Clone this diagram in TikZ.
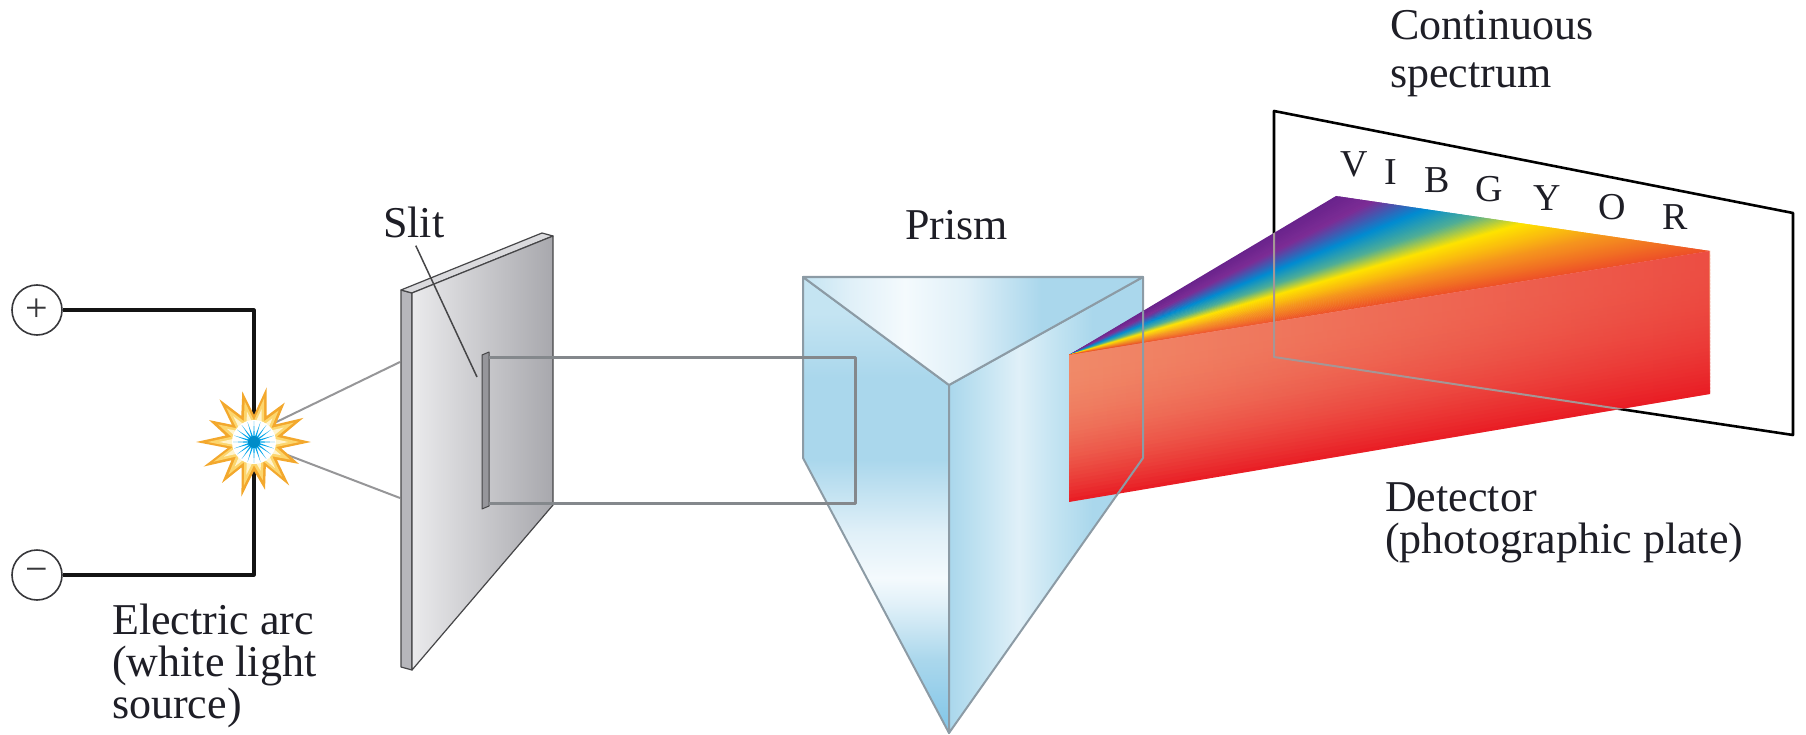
\documentclass[tikz,border=0pt]{standalone}
\usepackage{fontspec}
\setmainfont{Liberation Serif}
\usetikzlibrary{calc,fadings}

% palette
\definecolor{wire}{RGB}{20,20,20}
\definecolor{ringgray}{RGB}{55,55,58}
\definecolor{raygray}{RGB}{150,150,152}
\definecolor{beamgray}{RGB}{132,136,140}
\definecolor{platefrontA}{RGB}{234,234,236}
\definecolor{platefrontB}{RGB}{168,168,173}
\definecolor{plateedge}{RGB}{182,182,187}
\definecolor{platetop}{RGB}{218,218,221}
\definecolor{plateline}{RGB}{70,70,72}
\definecolor{groove}{RGB}{150,150,155}
\definecolor{pb}{RGB}{170,215,236}
\definecolor{pbdeep}{RGB}{128,197,232}
\definecolor{pbmid}{RGB}{196,228,242}
\definecolor{pbpale}{RGB}{224,240,248}
\definecolor{pbwhite}{RGB}{244,250,253}
\definecolor{prismline}{RGB}{140,155,165}
\definecolor{arcorange}{RGB}{243,168,45}
\definecolor{arcyellow}{RGB}{252,214,110}
\definecolor{arccream}{RGB}{255,244,205}
\definecolor{arcblue}{RGB}{0,165,235}
\definecolor{salmonc}{RGB}{241,138,105}
\definecolor{redc}{RGB}{233,28,36}
\definecolor{ghostline}{RGB}{165,150,150}
\definecolor{labeltext}{RGB}{30,30,38}

% shadings of the glass; the path box covers the stops 25bp..75bp
\pgfdeclarehorizontalshading{prismtop}{100bp}{color(0bp)=(pbmid); color(25bp)=(pbmid); color(32bp)=(pbpale); color(40bp)=(pbwhite); color(49bp)=(pbpale); color(60bp)=(pb); color(75bp)=(pb); color(100bp)=(pb)}
\pgfdeclareverticalshading{prismleft}{100bp}{color(0bp)=(pbdeep); color(25bp)=(pbdeep); color(33bp)=(pb); color(39bp)=(pbpale); color(42bp)=(pbwhite); color(47bp)=(pbpale); color(55bp)=(pb); color(64bp)=(pb); color(71bp)=(pbmid); color(75bp)=(pbmid); color(100bp)=(pbmid)}
\pgfdeclarehorizontalshading{prismright}{100bp}{color(0bp)=(pb); color(25bp)=(pb); color(34bp)=(pbmid); color(43bp)=(pbpale); color(52bp)=(pbmid); color(62bp)=(pb); color(75bp)=(pb); color(100bp)=(pb)}
\tikzfading[name=redfade, left color=transparent!100, right color=transparent!45]

% rainbow stops along the top edge of the fan
\def\Tstops{{0,0.1,0.24,0.37,0.5,0.72,1.0}}
\def\Rs{{105,125,0,80,255,246,238}}
\def\Gs{{35,45,140,175,228,150,80}}
\def\Bs{{140,150,210,150,0,30,40}}

% outline of the arc's starburst, centred on the origin
\def\burst{(0:57) -- (13:28) -- (26:50) -- (38:29) -- (51:56) -- (64:27) -- (77:49) -- (90:29)
    -- (103:56) -- (116:28) -- (128:52) -- (141:29) -- (154:56) -- (167:27) -- (180:58)
    -- (193:29) -- (206:50) -- (218:28) -- (231:55) -- (244:29) -- (257:52) -- (270:27)
    -- (283:56) -- (296:29) -- (308:50) -- (321:28) -- (334:55) -- (347:29) -- cycle}

\tikzset{
  lbl/.style={font=\fontsize{44}{42}\selectfont, inner sep=0pt, anchor=base west, align=left, text=labeltext},
  band/.style={font=\fontsize{38}{38}\selectfont, inner sep=0pt, anchor=base, text=labeltext},
  pole/.style={circle, draw=ringgray, line width=1.6pt, minimum size=50pt, inner sep=0pt, font=\fontsize{40}{40}\selectfont, text=ringgray},
  wireline/.style={wire, line width=3.2pt},
  ray/.style={raygray, line width=2pt},
  beamline/.style={beamgray, line width=3pt},
  glassedge/.style={prismline, line width=2pt},
}

\begin{document}
\begin{tikzpicture}[x=1pt, y=-1pt, line join=round]
\useasboundingbox (0,0) rectangle (1806,735);

% ---- power supply and arc ----
\node[pole] (plus) at (37,310) {+};
\node[pole] (minus) at (37,575) {−};
\coordinate (arc) at (254,442);
\draw[wireline] (plus.east) -- (arc |- plus) -- (arc |- minus) -- (minus.east);

% rays from the arc to the slit plate
\coordinate (rayA) at (400,362);
\coordinate (rayB) at (400,498);
\draw[ray] ([shift={(10,-14)}]arc) -- (rayA);
\draw[ray] ([shift={(10,4)}]arc) -- (rayB);

% starburst
\begin{scope}[shift={(arc)}]
  \fill[arcorange] \burst;
  \begin{scope}[scale=0.8]\fill[arcyellow] \burst;\end{scope}
  \begin{scope}[scale=0.6]\fill[arccream] \burst;\end{scope}
  \fill[white] (0,0) circle (22);
  \fill[arcblue] plot[samples=41, domain=0:360, variable=\t]
    ({(13+8*cos(20*\t))*cos(\t)}, {(13+8*cos(20*\t))*sin(\t)}) -- cycle;
  \fill[arcblue!85!black] (0,0) circle (6);
\end{scope}

% ---- slit plate ----
\fill[plateedge, draw=plateline, line width=1.2pt] (401,290) -- (412,293) -- (412,670) -- (401,667) -- cycle;
\fill[platetop, draw=plateline, line width=1.2pt] (401,290) -- (542,233) -- (553,236) -- (412,293) -- cycle;
\shade[left color=platefrontA, right color=platefrontB, draw=plateline, line width=1.2pt]
  (412,293) -- (553,236) -- (553,505) -- (412,670) -- cycle;
\fill[groove, draw=plateline, line width=1pt] (482,355) -- (489,352) -- (489,506) -- (482,509) -- cycle;
\coordinate (slitpt) at (477,377);
\node[lbl] (slitlabel) at (383,238) {Slit};
\draw[plateline, line width=1.5pt] ([shift={(2,7)}]slitlabel.south) -- (slitpt);

% ---- prism ----
\shade[shading=prismleft, draw=prismline, line width=2pt] (803,277) -- (949,385) -- (949,733) -- (803,458) -- cycle;
\shade[shading=prismright, draw=prismline, line width=2pt] (949,385) -- (1143,277) -- (1143,458) -- (949,733) -- cycle;
\shade[shading=prismtop, draw=prismline, line width=2pt] (803,277) -- (1143,277) -- (949,385) -- cycle;
\node[lbl] (prismlabel) at (905,240) {Prism};

% ---- collimated beam ----
\draw[beamline] (489,357) -- (855,357) -- (855,503) -- (489,503);

% ---- detector plate ----
\coordinate (dTL) at (1274,111);
\coordinate (dTR) at (1793,213);
\coordinate (dBR) at (1793,435);
\coordinate (dBL) at (1274,357);
\draw[black, line width=2.6pt, fill=white] (dTL) -- (dTR) -- (dBR) -- (dBL) -- cycle;

% ---- dispersed light ----
\coordinate (apex) at (1069,355);
\coordinate (vtip) at (1336,196);
\coordinate (rtip) at (1710,251);
\coordinate (rbot) at (1710,394);
\coordinate (lbot) at (1069,502);

% fan of colours, violet to red
\foreach \i in {0,...,119}{
  \pgfmathsetmacro\ta{\i/120}
  \pgfmathsetmacro\tb{min(1,(\i+1.8)/120)}
  \pgfmathsetmacro\tm{(\i+0.5)/120}
  \pgfmathtruncatemacro\segk{(\tm>=0.1)+(\tm>=0.24)+(\tm>=0.37)+(\tm>=0.5)+(\tm>=0.72)}
  \pgfmathtruncatemacro\segn{\segk+1}
  \pgfmathsetmacro\frc{(\tm-\Tstops[\segk])/(\Tstops[\segn]-\Tstops[\segk])}
  \pgfmathtruncatemacro\cR{\Rs[\segk]+\frc*(\Rs[\segn]-\Rs[\segk])}
  \pgfmathtruncatemacro\cG{\Gs[\segk]+\frc*(\Gs[\segn]-\Gs[\segk])}
  \pgfmathtruncatemacro\cB{\Bs[\segk]+\frc*(\Bs[\segn]-\Bs[\segk])}
  \definecolor{slice}{RGB}{\cR,\cG,\cB}
  \fill[slice] (apex) -- ($(vtip)!\ta!(rtip)$) -- ($(vtip)!\tb!(rtip)$) -- cycle;
}

% red sheet below the fan, salmon at the top, red at the bottom
\foreach \j in {0,...,39}{
  \pgfmathsetmacro\sa{\j/40}
  \pgfmathsetmacro\sb{min(1,(\j+1.6)/40)}
  \pgfmathtruncatemacro\mixp{100*((\j+0.5)/40)^2.2}
  \colorlet{sheet}{redc!\mixp!salmonc}
  \fill[sheet] ($(apex)!\sa!(lbot)$) -- ($(rtip)!\sa!(rbot)$) -- ($(rtip)!\sb!(rbot)$) -- ($(apex)!\sb!(lbot)$) -- cycle;
}
\fill[redc, path fading=redfade] (apex) -- (rtip) -- (rbot) -- (lbot) -- cycle;

% plate and prism edges seen through the light
\begin{scope}
  \clip (apex) -- (vtip) -- (rtip) -- (rbot) -- (lbot) -- cycle;
  \draw[ghostline, line width=2pt] (dTL) -- (dTR) -- (dBR) -- (dBL) -- cycle;
  \draw[glassedge] (949,385) -- (1143,277) -- (1143,458) -- (949,733);
\end{scope}

% ---- labels ----
\node[band] (cV) at (1354,177) {V};
\node[band] (cI) at (1391,185) {I};
\node[band] (cB) at (1437,193) {B};
\node[band] (cG) at (1489,202) {G};
\node[band] (cY) at (1547,211) {Y};
\node[band] (cO) at (1612,220) {O};
\node[band] (cR) at (1675,230) {R};

\node[lbl, font=\fontsize{44}{48}\selectfont] (spectrumlabel) at (1390,88) {Continuous\\spectrum};
\node[lbl] (detectorlabel) at (1385,553) {Detector\\(photographic plate)};
\node[lbl] (arclabel) at (112,718) {Electric arc\\(white light\\source)};
\end{tikzpicture}
\end{document}
